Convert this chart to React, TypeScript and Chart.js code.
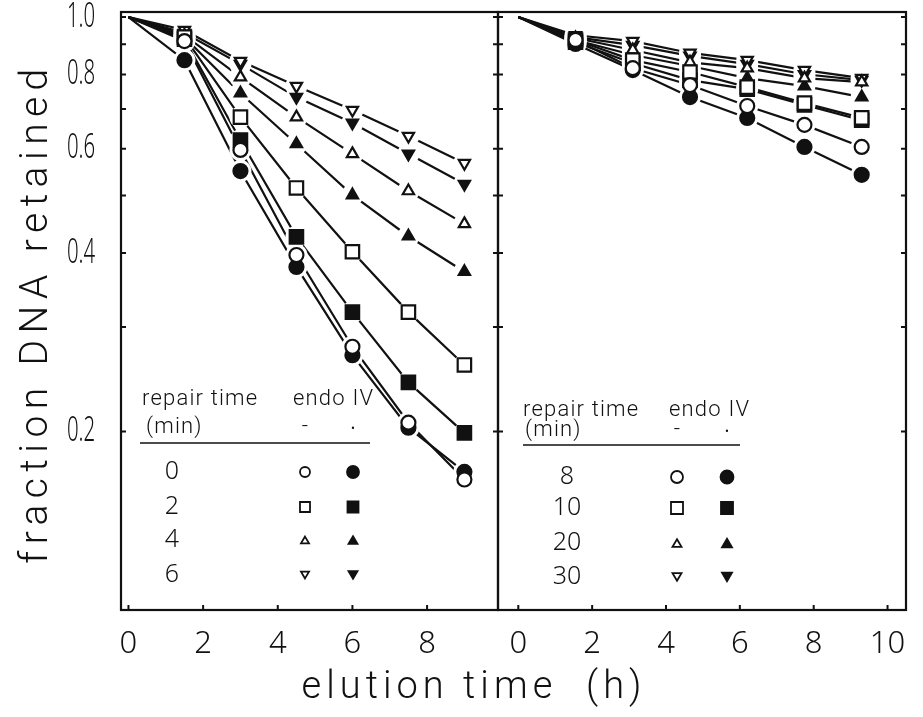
import React, { useEffect, useRef } from "react";
import { Chart, registerables } from "chart.js";

Chart.register(...registerables);

// ---------------- data ----------------
const leftTimes = [0, 1.5, 3, 4.5, 6, 7.5, 9];
const rightTimes = [0, 1.55, 3.1, 4.65, 6.2, 7.75, 9.3];

// left panel: repair 0, 2, 4, 6 min ; open = - endo IV, filled = + endo IV
const leftOpen0 = [1, 0.911, 0.597, 0.397, 0.278, 0.207, 0.166];
const leftFilled0 = [1, 0.846, 0.55, 0.379, 0.269, 0.203, 0.171];
const leftOpen2 = [1, 0.925, 0.678, 0.515, 0.402, 0.318, 0.259];
const leftFilled2 = [1, 0.918, 0.62, 0.426, 0.318, 0.242, 0.199];
const leftOpen4 = [1, 0.932, 0.792, 0.678, 0.588, 0.509, 0.448];
const leftFilled4 = [1, 0.925, 0.744, 0.611, 0.501, 0.427, 0.372];
const leftOpen6 = [1, 0.951, 0.843, 0.765, 0.697, 0.63, 0.567];
const leftFilled6 = [1, 0.94, 0.833, 0.733, 0.663, 0.588, 0.523];

// right panel: repair 8, 10, 20, 30 min
const rightOpen8 = [1, 0.915, 0.82, 0.768, 0.708, 0.658, 0.604];
const rightFilled8 = [1, 0.901, 0.814, 0.733, 0.676, 0.604, 0.542];
const rightOpen10 = [1, 0.915, 0.846, 0.808, 0.762, 0.716, 0.676];
const rightFilled10 = [1, 0.907, 0.836, 0.783, 0.756, 0.711, 0.67];
const rightOpen20 = [1, 0.922, 0.88, 0.839, 0.82, 0.789, 0.777];
const rightFilled20 = [1, 0.915, 0.863, 0.827, 0.789, 0.765, 0.733];
const rightOpen30 = [1, 0.932, 0.911, 0.87, 0.846, 0.814, 0.789];
const rightFilled30 = [1, 0.925, 0.897, 0.86, 0.833, 0.801, 0.783];

const leftXTicks = [0, 2, 4, 6, 8];
const rightXTicks = [0, 2, 4, 6, 8, 10];
const yTickValues = [1.0, 0.8, 0.6, 0.4, 0.2];
const yTickLabels = ["1.0", "0.8", "0.6", "0.4", "0.2"];
const yMinorTicks = [1.0, 0.9, 0.8, 0.7, 0.6, 0.5, 0.4, 0.3, 0.2];

const leftLegendTimes = ["0", "2", "4", "6"];
const rightLegendTimes = ["8", "10", "20", "30"];
type Shape = "circle" | "rect" | "triangle" | "triangleDown";
const legendShapes: Shape[] = ["circle", "rect", "triangle", "triangleDown"];

const yAxisTitle = "fraction DNA retained";
const xAxisTitle = "elution time  (h)";
const legendHead1 = "repair time";
const legendHead2 = "endo IV";
const legendHead3 = "(min)";
const legendMinus = "-";
const legendPlus = "•";

// ---------------- styling ----------------
const W = 923;
const H = 717;
const INK = "#111";
const NARROW = "'Noto Sans', 'DejaVu Sans', sans-serif";
const LIGHT = "Roboto, 'DejaVu Sans', sans-serif";
const Y_LABEL_SQUEEZE = 0.6;

const LEFT_PANEL = { left: 121, right: 498, top: 12, bottom: 610 };
const RIGHT_PANEL = { left: 498, right: 906, top: 12, bottom: 610 };

const MARK_R: Record<Shape, number> = { circle: 7, rect: 9.5, triangle: 6.5, triangleDown: 6.5 };
const HALO_R = 11;

interface SeriesDef {
  values: number[];
  shape: Shape;
  filled: boolean;
}

const leftSeries: SeriesDef[] = [
  { values: leftOpen0, shape: "circle", filled: false },
  { values: leftFilled0, shape: "circle", filled: true },
  { values: leftOpen2, shape: "rect", filled: false },
  { values: leftFilled2, shape: "rect", filled: true },
  { values: leftOpen4, shape: "triangle", filled: false },
  { values: leftFilled4, shape: "triangle", filled: true },
  { values: leftOpen6, shape: "triangleDown", filled: false },
  { values: leftFilled6, shape: "triangleDown", filled: true },
];

const rightSeries: SeriesDef[] = [
  { values: rightOpen8, shape: "circle", filled: false },
  { values: rightFilled8, shape: "circle", filled: true },
  { values: rightOpen10, shape: "rect", filled: false },
  { values: rightFilled10, shape: "rect", filled: true },
  { values: rightOpen20, shape: "triangle", filled: false },
  { values: rightFilled20, shape: "triangle", filled: true },
  { values: rightOpen30, shape: "triangleDown", filled: false },
  { values: rightFilled30, shape: "triangleDown", filled: true },
];

function buildDatasets(times: number[], series: SeriesDef[]) {
  const pts = (s: SeriesDef) => times.map((t, i) => ({ x: t, y: s.values[i] }));
  const lines = series.map((s) => ({
    data: pts(s),
    showLine: true,
    borderColor: INK,
    borderWidth: 2.2,
    pointRadius: 0,
    pointHoverRadius: 0,
    tension: 0,
    fill: false,
    order: 2,
  }));
  const halos = series.map((s) => ({
    data: pts(s),
    showLine: false,
    pointStyle: "circle",
    pointRadius: (c: any) => (c.dataIndex === 0 ? 0 : HALO_R),
    pointBackgroundColor: "#fff",
    pointBorderColor: "#fff",
    pointBorderWidth: 0,
    order: 1,
  }));
  const marks = series.map((s) => ({
    data: pts(s),
    showLine: false,
    pointStyle: s.shape === "triangleDown" ? "triangle" : s.shape,
    pointRotation: s.shape === "triangleDown" ? 180 : 0,
    pointRadius: (c: any) => (c.dataIndex === 0 ? 0 : MARK_R[s.shape]),
    pointBackgroundColor: s.filled ? INK : "#fff",
    pointBorderColor: INK,
    pointBorderWidth: 2.2,
    order: 0,
  }));
  return [...lines, ...halos, ...marks];
}

function drawShape(ctx: CanvasRenderingContext2D, shape: Shape, x: number, y: number, r: number, filled: boolean) {
  ctx.beginPath();
  if (shape === "circle") {
    ctx.arc(x, y, r, 0, Math.PI * 2);
  } else if (shape === "rect") {
    ctx.rect(x - r, y - r, 2 * r, 2 * r);
  } else {
    const dir = shape === "triangle" ? 1 : -1;
    const h = r * 1.7;
    ctx.moveTo(x, y - (dir * h) / 2);
    ctx.lineTo(x + r, y + (dir * h) / 2);
    ctx.lineTo(x - r, y + (dir * h) / 2);
    ctx.closePath();
  }
  ctx.lineWidth = 1.8;
  ctx.strokeStyle = INK;
  ctx.fillStyle = filled ? INK : "#fff";
  ctx.fill();
  ctx.stroke();
}

interface LegendLayout {
  headX: number;
  headY: number;
  endoX: number;
  minX: number;
  minY: number;
  ruleY: number;
  ruleX1: number;
  ruleX2: number;
  numX: number;
  openX: number;
  filledX: number;
  rowYs: number[];
  times: string[];
  open: number[];
  filledR: number[];
}

const leftLegend: LegendLayout = {
  headX: 142, headY: 399, endoX: 293, minX: 146, minY: 427,
  ruleY: 443, ruleX1: 140, ruleX2: 370,
  numX: 172, openX: 305, filledX: 353,
  rowYs: [472, 507, 540, 575], times: leftLegendTimes,
  open: [5, 5, 4, 4], filledR: [6, 5.5, 4.5, 4.5],
};
const rightLegend: LegendLayout = {
  headX: 523, headY: 410, endoX: 669, minX: 525, minY: 430,
  ruleY: 445, ruleX1: 523, ruleX2: 740,
  numX: 567, openX: 677, filledX: 727,
  rowYs: [477, 508, 543, 577], times: rightLegendTimes,
  open: [6, 6, 4.5, 4.5], filledR: [6.5, 6, 5, 5],
};

function drawLegend(ctx: CanvasRenderingContext2D, L: LegendLayout) {
  ctx.save();
  ctx.fillStyle = INK;
  ctx.textBaseline = "middle";
  ctx.textAlign = "left";
  ctx.font = `300 22px ${LIGHT}`;
  (ctx as any).letterSpacing = "1.2px";
  ctx.fillText(legendHead1, L.headX, L.headY);
  ctx.fillText(legendHead2, L.endoX, L.headY);
  ctx.fillText(legendHead3, L.minX, L.minY);
  (ctx as any).letterSpacing = "0px";
  ctx.textAlign = "center";
  ctx.fillText(legendMinus, L.openX, L.minY);
  ctx.font = `300 12px ${LIGHT}`;
  ctx.fillText(legendPlus, L.filledX, L.minY + 2);
  ctx.strokeStyle = INK;
  ctx.lineWidth = 1.5;
  ctx.beginPath();
  ctx.moveTo(L.ruleX1, L.ruleY);
  ctx.lineTo(L.ruleX2, L.ruleY);
  ctx.stroke();
  ctx.font = `300 25px ${NARROW}`;
  L.rowYs.forEach((y, i) => {
    ctx.fillStyle = INK;
    ctx.textAlign = "center";
    ctx.fillText(L.times[i], L.numX, y);
    drawShape(ctx, legendShapes[i], L.openX, y, L.open[i], false);
    drawShape(ctx, legendShapes[i], L.filledX, y, L.filledR[i], true);
  });
  ctx.restore();
}

function spacedText(ctx: CanvasRenderingContext2D, text: string, target: number) {
  const c = ctx as any;
  c.letterSpacing = "0px";
  const w0 = ctx.measureText(text).width;
  const ls = Math.max(0, (target - w0) / (text.length - 1));
  c.letterSpacing = `${ls}px`;
}

const framePlugin = (xTicks: number[]) => ({
  id: "frame",
  afterDatasetsDraw(chart: any) {
    const { ctx, chartArea: a, scales } = chart;
    ctx.save();
    ctx.strokeStyle = INK;
    ctx.lineWidth = 2.2;
    ctx.strokeRect(a.left, a.top, a.right - a.left, a.bottom - a.top);
    ctx.lineWidth = 2;
    ctx.beginPath();
    for (const v of yMinorTicks) {
      const y = scales.y.getPixelForValue(v);
      ctx.moveTo(a.left, y);
      ctx.lineTo(a.left + 5, y);
      ctx.moveTo(a.right, y);
      ctx.lineTo(a.right - 5, y);
    }
    for (const v of xTicks) {
      const x = scales.x.getPixelForValue(v);
      ctx.moveTo(x, a.bottom);
      ctx.lineTo(x, a.bottom - 5);
    }
    ctx.stroke();
    ctx.restore();
  },
});

const leftExtras = {
  id: "leftExtras",
  afterDraw(chart: any) {
    const ctx: CanvasRenderingContext2D = chart.ctx;
    ctx.save();
    ctx.fillStyle = INK;
    ctx.textAlign = "center";
    ctx.textBaseline = "middle";
    ctx.font = `300 39px ${LIGHT}`;
    spacedText(ctx, yAxisTitle, 495);
    ctx.translate(37, 313);
    ctx.rotate(-Math.PI / 2);
    ctx.fillText(yAxisTitle, 0, 0);
    ctx.restore();

    ctx.save();
    ctx.fillStyle = INK;
    ctx.textAlign = "center";
    ctx.textBaseline = "middle";
    ctx.font = `300 38px ${LIGHT}`;
    spacedText(ctx, xAxisTitle, 340);
    ctx.fillText(xAxisTitle, 474, 688);
    ctx.restore();

    drawLegend(ctx, leftLegend);
    drawLegend(ctx, rightLegend);
  },
};

function makeConfig(o: {
  times: number[];
  series: SeriesDef[];
  xMin: number;
  xMax: number;
  xTicks: number[];
  panel: { left: number; right: number; top: number; bottom: number };
  showYLabels: boolean;
  extra?: any[];
}) {
  const p = o.panel;
  const yWidth = o.showYLabels ? p.left : 2;
  const yPad = 21;
  return {
    type: "line" as const,
    data: { datasets: buildDatasets(o.times, o.series) as any },
    options: {
      animation: false as const,
      responsive: false,
      devicePixelRatio: 1,
      events: [],
      layout: { padding: { left: p.left - yWidth, top: p.top, right: W - p.right, bottom: 0 } },
      plugins: { legend: { display: false }, tooltip: { enabled: false }, title: { display: false } },
      scales: {
        x: {
          type: "linear" as const,
          min: o.xMin,
          max: o.xMax,
          grid: { display: false },
          border: { display: false },
          ticks: {
            color: INK,
            font: { family: NARROW, size: 31, weight: "300" as any },
            padding: 8,
            maxRotation: 0,
            autoSkip: false,
            callback: (v: any) => String(v),
          },
          afterBuildTicks: (s: any) => {
            s.ticks = o.xTicks.map((v) => ({ value: v }));
          },
          afterFit: (s: any) => {
            s.height = H - p.bottom;
            s.paddingLeft = 0;
            s.paddingRight = 0;
          },
        },
        y: {
          type: "logarithmic" as const,
          min: 0.1,
          max: 1.02,
          grid: { display: false },
          border: { display: false },
          ticks: {
            display: o.showYLabels,
            color: INK,
            font: { family: NARROW, size: 34, weight: "300" as any },
            padding: yPad,
            autoSkip: false,
            callback: (v: any) => {
              const i = yTickValues.findIndex((t) => Math.abs(t - v) < 1e-6);
              return i >= 0 ? yTickLabels[i] : "";
            },
          },
          afterBuildTicks: (s: any) => {
            s.ticks = yTickValues.map((v) => ({ value: v }));
          },
          afterFit: (s: any) => {
            s.width = yWidth;
            s.paddingTop = 0;
            s.paddingBottom = 0;
            if (!s.__squeezed) {
              s.__squeezed = true;
              const orig = s.drawLabels.bind(s);
              s.drawLabels = (area: any) => {
                const ctx = s.ctx as CanvasRenderingContext2D;
                const ax = s.right - yPad;
                ctx.save();
                ctx.translate(ax, 0);
                ctx.scale(Y_LABEL_SQUEEZE, 1);
                ctx.translate(-ax, 0);
                orig(area);
                ctx.restore();
              };
            }
          },
        },
      },
    },
    plugins: [framePlugin(o.xTicks), ...(o.extra || [])],
  };
}

export default function App() {
  const leftRef = useRef<HTMLCanvasElement>(null);
  const rightRef = useRef<HTMLCanvasElement>(null);

  useEffect(() => {
    const left = new Chart(
      leftRef.current!,
      makeConfig({
        times: leftTimes,
        series: leftSeries,
        xMin: -0.2,
        xMax: 9.9,
        xTicks: leftXTicks,
        panel: LEFT_PANEL,
        showYLabels: true,
        extra: [leftExtras],
      }) as any
    );
    const right = new Chart(
      rightRef.current!,
      makeConfig({
        times: rightTimes,
        series: rightSeries,
        xMin: -0.55,
        xMax: 10.5,
        xTicks: rightXTicks,
        panel: RIGHT_PANEL,
        showYLabels: false,
      }) as any
    );
    return () => {
      left.destroy();
      right.destroy();
    };
  }, []);

  const cs: React.CSSProperties = { position: "absolute", left: 0, top: 0, width: W, height: H };
  return (
    <div style={{ position: "fixed", left: 0, top: 0, width: W, height: H, background: "#fff" }}>
      <canvas ref={leftRef} width={W} height={H} style={cs} />
      <canvas ref={rightRef} width={W} height={H} style={cs} />
    </div>
  );
}
